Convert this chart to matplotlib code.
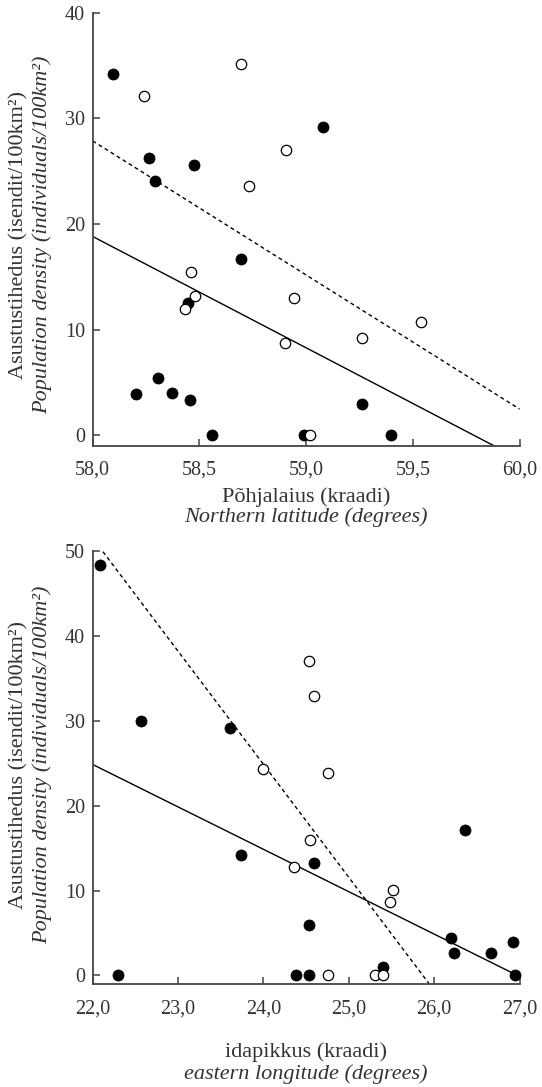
import numpy as np
import matplotlib
matplotlib.use("Agg")
import matplotlib.pyplot as plt

plt.rcParams['font.family'] = ['Liberation Serif', 'DejaVu Serif']

TEXT = '#333333'
SPINE = '#444444'

# --- top panel: latitude ---
lat_filled_x = [58.096, 58.266, 58.292, 58.477, 59.077, 58.697, 58.446, 58.308,
                58.203, 58.370, 58.456, 58.558, 58.989, 59.260, 59.398]
lat_filled_y = [34.2, 26.2, 24.1, 25.6, 29.2, 16.7, 12.5, 5.4,
                3.9, 4.0, 3.3, 0.0, 0.0, 2.9, 0.0]
lat_open_x = [58.240, 58.697, 58.905, 58.732, 58.462, 58.479, 58.431, 58.941,
              58.903, 59.262, 59.538, 59.020]
lat_open_y = [32.1, 35.1, 27.0, 23.6, 15.4, 13.2, 11.9, 13.0,
              8.7, 9.2, 10.7, 0.0]
lat_solid_x = [58.0, 59.886]
lat_solid_y = [18.81, -1.07]
lat_dash_x = [58.0, 60.0]
lat_dash_y = [27.86, 2.47]
lat_xticks = [58.0, 58.5, 59.0, 59.5, 60.0]
lat_xticklabels = ['58,0', '58,5', '59,0', '59,5', '60,0']
lat_yticks = [0, 10, 20, 30, 40]

# --- bottom panel: longitude ---
lon_filled_x = [22.089, 22.292, 22.568, 23.614, 23.736, 24.591, 24.384, 24.530,
                24.538, 25.402, 26.197, 26.238, 26.359, 26.663, 26.919, 26.947]
lon_filled_y = [48.3, 0.0, 30.0, 29.2, 14.2, 13.2, 0.0, 0.0,
                5.9, 1.0, 4.4, 2.6, 17.1, 2.7, 4.0, 0.0]
lon_open_x = [24.534, 24.591, 23.995, 24.757, 24.547, 24.356, 25.520, 25.487,
              24.753, 25.309, 25.402]
lon_open_y = [37.1, 32.9, 24.3, 23.8, 16.0, 12.8, 10.1, 8.7,
              0.0, 0.0, 0.0]
lon_solid_x = [22.0, 26.90]
lon_solid_y = [24.85, 0.38]
lon_dash_x = [22.12, 25.94]
lon_dash_y = [49.92, -0.96]
lon_xticks = [22.0, 23.0, 24.0, 25.0, 26.0, 27.0]
lon_xticklabels = ['22,0', '23,0', '24,0', '25,0', '26,0', '27,0']
lon_yticks = [0, 10, 20, 30, 40, 50]

ylabel_et = 'Asustustihedus (isendit/100km²)'
ylabel_en = 'Population density (individuals/100km²)'


def style_axes(ax, xlim, ylim, xticks, xticklabels, yticks):
    ax.set_xlim(*xlim)
    ax.set_ylim(*ylim)
    ax.set_xticks(xticks)
    ax.set_xticklabels(xticklabels)
    ax.set_yticks(yticks)
    for side in ['top', 'right']:
        ax.spines[side].set_visible(False)
    for side in ['left', 'bottom']:
        ax.spines[side].set_color(SPINE)
        ax.spines[side].set_linewidth(1.3)
    ax.tick_params(axis='both', direction='in', length=5, width=1.1,
                   color=SPINE, labelcolor=TEXT, labelsize=14.5)
    ax.tick_params(axis='x', pad=11)
    ax.tick_params(axis='y', pad=5.5)


def draw_panel(ax, fx, fy, ox, oy, sx, sy, dx, dy):
    ax.plot(sx, sy, color='black', lw=1.0, zorder=2)
    ax.plot(dx, dy, color='black', lw=1.0, ls=(0, (2.8, 2.3)), zorder=2)
    ax.scatter(fx, fy, s=64, c='black', edgecolors='black', linewidths=0.5,
               zorder=3, clip_on=False)
    ax.scatter(ox, oy, s=56, facecolors='white', edgecolors='black',
               linewidths=0.9, zorder=3, clip_on=False)


fig = plt.figure(figsize=(5.42, 10.87), dpi=100)
ax1 = fig.add_axes([0.1710, 0.5900, 0.7875, 0.3983])
ax2 = fig.add_axes([0.1710, 0.0948, 0.7875, 0.3983])

draw_panel(ax1, lat_filled_x, lat_filled_y, lat_open_x, lat_open_y,
           lat_solid_x, lat_solid_y, lat_dash_x, lat_dash_y)
style_axes(ax1, (58.0, 60.0), (-1, 40), lat_xticks, lat_xticklabels, lat_yticks)

draw_panel(ax2, lon_filled_x, lon_filled_y, lon_open_x, lon_open_y,
           lon_solid_x, lon_solid_y, lon_dash_x, lon_dash_y)
style_axes(ax2, (22.0, 27.0), (-1, 50), lon_xticks, lon_xticklabels, lon_yticks)

# axis titles (two lines each, Estonian upright + English italic)
cx = 306 / 542
fig.text(cx, 1 - 497 / 1087, 'Põhjalaius (kraadi)', ha='center', va='center',
         fontsize=16, color=TEXT)
fig.text(cx, 1 - 517 / 1087, 'Northern latitude (degrees)', ha='center',
         va='center', fontsize=16, style='italic', color=TEXT)
fig.text(cx, 1 - 1052 / 1087, 'idapikkus (kraadi)', ha='center', va='center',
         fontsize=16, color=TEXT)
fig.text(cx, 1 - 1074 / 1087, 'eastern longitude (degrees)', ha='center',
         va='center', fontsize=16, style='italic', color=TEXT)

for yc in [1 - 235 / 1087, 1 - 765 / 1087]:
    fig.text(19 / 542, yc, ylabel_et, rotation=90, ha='center', va='center',
             fontsize=16, color=TEXT)
    fig.text(42 / 542, yc, ylabel_en, rotation=90, ha='center', va='center',
             fontsize=16, style='italic', color=TEXT)

fig.savefig('out.png', dpi=100)
